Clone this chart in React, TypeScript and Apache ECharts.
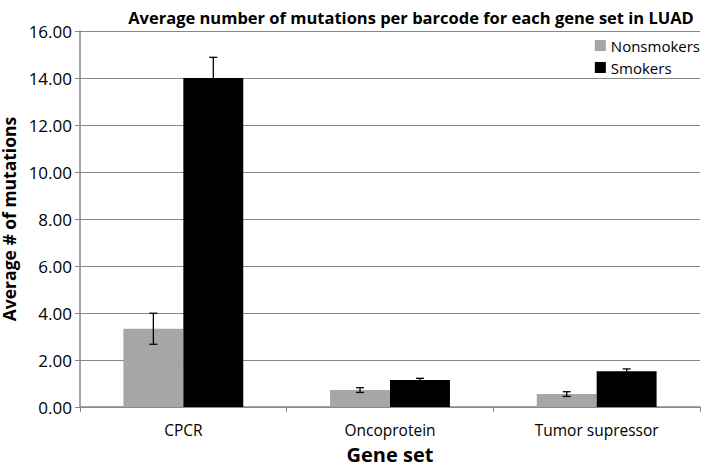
import React, { useEffect, useRef } from "react";
import * as echarts from "echarts";

const categories = ["CPCR", "Oncoprotein", "Tumor supressor"];
const nonsmokers = [3.33, 0.72, 0.55];
const nonsmokersErr = [0.66, 0.1, 0.1];
const smokers = [14.0, 1.15, 1.52];
const smokersErr = [0.88, 0.07, 0.1];
const seriesNames = ["Nonsmokers", "Smokers"];

const FONT = "'Open Sans', 'Liberation Sans', sans-serif";

function errorSeries(vals: number[], errs: number[], side: number) {
  return {
    type: "custom",
    silent: true,
    z: 10,
    data: vals.map((v, i) => [i, v, errs[i]]),
    renderItem: (params: any, api: any) => {
      const idx = api.value(0);
      const v = api.value(1);
      const e = api.value(2);
      const band = api.size([1, 0])[0];
      const off = side * band * 0.145;
      const x = api.coord([idx, v])[0] + off;
      const yTop = api.coord([idx, v + e])[1];
      const yBot = api.coord([idx, v - e])[1];
      const cap = 4;
      const style = { stroke: "#000", lineWidth: 1.3 };
      return {
        type: "group",
        children: [
          { type: "line", shape: { x1: x, y1: yTop, x2: x, y2: yBot }, style },
          { type: "line", shape: { x1: x - cap, y1: yTop, x2: x + cap, y2: yTop }, style },
          { type: "line", shape: { x1: x - cap, y1: yBot, x2: x + cap, y2: yBot }, style },
        ],
      };
    },
  };
}

export default function App() {
  const ref = useRef<HTMLDivElement>(null);
  useEffect(() => {
    const chart = echarts.init(ref.current!, null, { renderer: "svg" });
    chart.setOption({
      animation: false,
      backgroundColor: "#fff",
      title: {
        text: "Average number of mutations per barcode for each gene set in LUAD",
        left: 406,
        textAlign: "center",
        top: 4,
        textStyle: { fontFamily: FONT, fontSize: 16.5, fontWeight: "bold", color: "#000" },
      },
      legend: {
        orient: "vertical",
        right: 4,
        top: 33,
        itemWidth: 11,
        itemHeight: 11,
        itemGap: 7,
        icon: "rect",
        textStyle: { fontFamily: FONT, fontSize: 15, color: "#000" },
        data: seriesNames,
      },
      grid: {
        left: 80,
        right: 9,
        top: 31,
        bottom: 63,
        containLabel: false,
        outerBoundsMode: "none",
      },
      xAxis: {
        type: "category",
        data: categories,
        name: "Gene set",
        nameLocation: "middle",
        nameGap: 37,
        nameTextStyle: { fontFamily: FONT, fontSize: 20, fontWeight: "bold", color: "#000" },
        axisLine: { lineStyle: { color: "#888", width: 1.5 } },
        axisTick: { show: true, alignWithLabel: false, length: 5, lineStyle: { color: "#888" } },
        axisLabel: { fontFamily: FONT, fontSize: 15.5, color: "#000", margin: 15 },
      },
      yAxis: {
        type: "value",
        min: 0,
        max: 16,
        interval: 2,
        name: "Average # of mutations",
        nameLocation: "middle",
        nameGap: 50,
        nameTextStyle: {
          fontFamily: FONT,
          fontSize: 17.5,
          lineHeight: 18,
          fontWeight: "bold",
          color: "#000",
        },
        axisLine: { show: true, lineStyle: { color: "#888", width: 1.5 } },
        axisTick: { show: true, length: 5, lineStyle: { color: "#888" } },
        axisLabel: {
          fontFamily: FONT,
          fontSize: 17,
          color: "#000",
          margin: 8,
          formatter: (v: number) => v.toFixed(2),
        },
        splitLine: { lineStyle: { color: "#888", width: 1.2 } },
      },
      series: [
        {
          name: seriesNames[0],
          type: "bar",
          data: nonsmokers,
          barGap: "0%",
          barCategoryGap: "42%",
          itemStyle: { color: "#a6a6a6" },
        },
        {
          name: seriesNames[1],
          type: "bar",
          data: smokers,
          barGap: "0%",
          barCategoryGap: "42%",
          itemStyle: { color: "#000000" },
        },
        errorSeries(nonsmokers, nonsmokersErr, -1),
        errorSeries(smokers, smokersErr, 1),
      ],
    });
    return () => chart.dispose();
  }, []);
  return <div ref={ref} style={{ width: 709, height: 470, position: "absolute", left: 0, top: 0 }} />;
}
